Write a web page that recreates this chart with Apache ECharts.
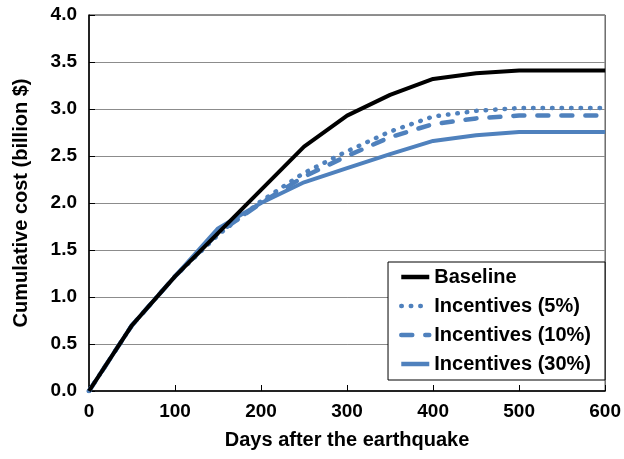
<!DOCTYPE html>
<html>
<head>
<meta charset="utf-8">
<script src="https://cdn.jsdelivr.net/npm/echarts@6/dist/echarts.min.js"></script>
<style>
html,body{margin:0;padding:0;background:#fff;}
#c{width:624px;height:459px;}
</style>
</head>
<body>
<div id="c"></div>
<script>
const days = [0, 50, 100, 150, 200, 250, 300, 350, 400, 450, 500, 550, 600];
const baseline = [0, 0.70, 1.22, 1.68, 2.14, 2.60, 2.93, 3.15, 3.32, 3.38, 3.41, 3.41, 3.41];
const inc5 = [0, 0.70, 1.22, 1.66, 2.02, 2.32, 2.55, 2.76, 2.92, 2.98, 3.01, 3.01, 3.01];
const inc10 = [0, 0.70, 1.22, 1.68, 2.00, 2.28, 2.50, 2.70, 2.84, 2.90, 2.93, 2.93, 2.93];
const inc30 = [0, 0.70, 1.22, 1.73, 2.00, 2.22, 2.37, 2.52, 2.66, 2.72, 2.755, 2.755, 2.755];
const seriesNames = ['Baseline', 'Incentives (5%)', 'Incentives (10%)', 'Incentives (30%)'];

const pair = arr => days.map((d, i) => [d, arr[i]]);
const BLUE = '#4F81BD';
const font = 'Liberation Sans, Arial, sans-serif';

const chart = echarts.init(document.getElementById('c'), null, {renderer: 'canvas'});
chart.setOption({
  animation: false,
  backgroundColor: '#fff',
  grid: {left: 89, right: 18, top: 15, bottom: 68, show: true, borderColor: '#222', borderWidth: 1},
  legend: {
    orient: 'vertical',
    right: 19, top: 262,
    backgroundColor: '#fff',
    borderColor: '#000', borderWidth: 1,
    padding: [5, 14, 6, 11],
    itemGap: 9,
    itemWidth: 28, itemHeight: 14,
    itemStyle: {opacity: 0},
    lineStyle: {width: 4.5},
    textStyle: {fontFamily: font, fontWeight: 'bold', fontSize: 20, lineHeight: 20, color: '#000'},
    data: seriesNames
  },
  xAxis: {
    type: 'value', min: 0, max: 600, interval: 100,
    name: 'Days after the earthquake', nameLocation: 'middle', nameGap: 39,
    nameTextStyle: {fontFamily: font, fontWeight: 'bold', fontSize: 20, color: '#000'},
    axisLine: {lineStyle: {color: '#000', width: 1.5}},
    axisTick: {inside: true, length: 6, lineStyle: {color: '#000'}},
    axisLabel: {fontFamily: font, fontWeight: 'bold', fontSize: 19, color: '#000', margin: 11},
    splitLine: {show: false}
  },
  yAxis: {
    type: 'value', min: 0, max: 4, interval: 0.5,
    name: 'Cumulative cost (billion $)', nameLocation: 'middle', nameGap: 58,
    nameTextStyle: {fontFamily: font, fontWeight: 'bold', fontSize: 20, color: '#000'},
    axisLine: {show: true, lineStyle: {color: '#000', width: 1.5}},
    axisTick: {show: true, inside: true, length: 6, lineStyle: {color: '#000'}},
    axisLabel: {fontFamily: font, fontWeight: 'bold', fontSize: 19, color: '#000', margin: 12,
      formatter: v => v.toFixed(1)},
    splitLine: {show: true, lineStyle: {color: '#8c8c8c', width: 1}}
  },
  series: [
    {name: seriesNames[0], type: 'line', data: pair(baseline), showSymbol: false, symbol: 'none',
     lineStyle: {color: '#000', width: 4}, itemStyle: {color: '#000'}, z: 5},
    {name: seriesNames[1], type: 'line', data: pair(inc5), showSymbol: false, symbol: 'none',
     lineStyle: {color: BLUE, width: 4.5, type: [0.5, 9], cap: 'round'}, itemStyle: {color: BLUE}, z: 4},
    {name: seriesNames[2], type: 'line', data: pair(inc10), showSymbol: false, symbol: 'none',
     lineStyle: {color: BLUE, width: 4.5, type: [11, 13], cap: 'round'}, itemStyle: {color: BLUE}, z: 3},
    {name: seriesNames[3], type: 'line', data: pair(inc30), showSymbol: false, symbol: 'none',
     lineStyle: {color: BLUE, width: 4}, itemStyle: {color: BLUE}, z: 2}
  ]
});
</script>
</body>
</html>
